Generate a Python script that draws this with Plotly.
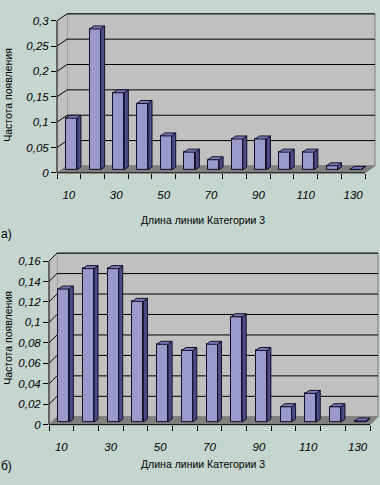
import plotly.graph_objects as go

# ---------------- data ----------------
categories = [10, 20, 30, 40, 50, 60, 70, 80, 90, 100, 110, 120, 130]
x_tick_labels = ["10", "30", "50", "70", "90", "110", "130"]
freq_a = [0.102, 0.278, 0.152, 0.131, 0.067, 0.035, 0.020, 0.061, 0.061, 0.035, 0.035, 0.008, 0.001]
freq_b = [0.130, 0.150, 0.150, 0.118, 0.076, 0.070, 0.076, 0.103, 0.070, 0.015, 0.028, 0.015, 0.001]
yticks_a = [0, 0.05, 0.1, 0.15, 0.2, 0.25, 0.3]
yticks_b = [0, 0.02, 0.04, 0.06, 0.08, 0.1, 0.12, 0.14, 0.16]
y_title = "Частота появления"
x_title = "Длина линии Категории 3"
panel_labels = ["а)", "б)"]

# ---------------- style ----------------
W, H = 380, 485
BG = "#c5d6cf"
WALL = "#c0c0c0"
FLOOR = "#808080"
BAR_FRONT = "#9999cc"
BAR_SIDE = "#4b4b85"
BAR_TOP = "#7a7ab8"
EDGE = "#10102a"
TICK_FONT = dict(family="Liberation Sans, Arial, sans-serif", size=11.5, color="black", style="italic")
TITLE_FONT = dict(family="Liberation Sans Narrow, Arial Narrow, Liberation Sans, sans-serif", size=10.5, color="black")


def px(x):
    return x / W


def py(y):
    return 1 - y / H


panels = [
    dict(vals=freq_a, yt=yticks_a, ymax=0.3, x0=57, x1=365, y0=175, ytop=21,
         wdx=10, wdy=7, bdx=2.6, bdy=3.0, bw=11, sdx=4, sdy=3, lablen=11,
         ytitle_y=96, xtitle=(203, 223), lab=(6, 237)),
    dict(vals=freq_b, yt=yticks_b, ymax=0.16, x0=49, x1=370, y0=430, ytop=264.3,
         wdx=8, wdy=8, bdx=2.5, bdy=2.7, bw=11, sdx=4, sdy=3, lablen=12,
         ytitle_y=342, xtitle=(203, 470), lab=(7, 472)),
]

fig = go.Figure()
shapes = []
annotations = []
n = len(categories)
idx = list(range(n))


def path(pts):
    return "M " + " L ".join(f"{a},{b}" for a, b in pts) + " Z"


for k, p in enumerate(panels):
    sfx = "" if k == 0 else str(k + 1)
    xref, yref = "x" + sfx, "y" + sfx
    pxc = (p["x1"] - p["x0"]) / n
    pxu = (p["y0"] - p["ytop"]) / p["ymax"]
    wdx, wdy = p["wdx"] / pxc, p["wdy"] / pxu
    bdx, bdy = p["bdx"] / pxc, p["bdy"] / pxu
    bw = p["bw"] / pxc
    sdx, sdy = p["sdx"] / pxc, p["sdy"] / pxu
    xr = [-0.5, n - 0.5 + (p["wdx"] + 2) / pxc]
    yr = [0, p["ymax"] + (p["wdy"] + 2) / pxu]
    ymax = p["ymax"]
    L, R = -0.5, n - 0.5

    # back wall
    shapes.append(dict(type="path", xref=xref, yref=yref, layer="below",
                       path=path([(L + wdx, wdy), (R + wdx, wdy), (R + wdx, ymax + wdy), (L + wdx, ymax + wdy)]),
                       fillcolor=WALL, line=dict(color="#808080", width=1)))
    # side wall
    shapes.append(dict(type="path", xref=xref, yref=yref, layer="below",
                       path=path([(L, 0), (L + wdx, wdy), (L + wdx, ymax + wdy), (L, ymax)]),
                       fillcolor=WALL, line=dict(color="#808080", width=0)))
    # floor
    shapes.append(dict(type="path", xref=xref, yref=yref, layer="below",
                       path=path([(L, 0), (R, 0), (R + wdx, wdy), (L + wdx, wdy)]),
                       fillcolor=FLOOR, line=dict(color="#808080", width=1)))
    # gridlines
    for v in p["yt"]:
        if v > 0:
            shapes.append(dict(type="path", xref=xref, yref=yref, layer="below",
                               path=f"M {L},{v} L {L + wdx},{v + wdy} L {R + wdx},{v + wdy}",
                               line=dict(color="black", width=1)))
    # bars: front faces
    fig.add_trace(go.Bar(x=[i + bdx for i in idx], y=p["vals"], base=[bdy] * n, width=bw,
                         marker=dict(color=BAR_FRONT, line=dict(color=EDGE, width=1)),
                         xaxis=xref, yaxis=yref, showlegend=False, hoverinfo="skip"))
    # bars: side and top faces
    for i, v in zip(idx, p["vals"]):
        xl = i + bdx - bw / 2
        xrr = i + bdx + bw / 2
        top = bdy + v
        shapes.append(dict(type="path", xref=xref, yref=yref, layer="above",
                           path=path([(xrr, bdy), (xrr + sdx, bdy + sdy), (xrr + sdx, top + sdy), (xrr, top)]),
                           fillcolor=BAR_SIDE, line=dict(color=EDGE, width=1)))
        shapes.append(dict(type="path", xref=xref, yref=yref, layer="above",
                           path=path([(xl, top), (xrr, top), (xrr + sdx, top + sdy), (xl + sdx, top + sdy)]),
                           fillcolor=BAR_TOP, line=dict(color=EDGE, width=1)))
    # front axis lines (paper coords derived from the panel frame)
    shapes.append(dict(type="line", xref="paper", yref="paper", layer="above",
                       x0=px(p["x0"]), x1=px(p["x0"]), y0=py(p["y0"]), y1=py(p["ytop"]),
                       line=dict(color="black", width=1)))
    shapes.append(dict(type="line", xref="paper", yref="paper", layer="above",
                       x0=px(p["x0"]), x1=px(p["x1"]), y0=py(p["y0"]), y1=py(p["y0"]),
                       line=dict(color="black", width=1)))

    fig.update_layout(**{
        "xaxis" + sfx: dict(
            domain=[px(p["x0"]), px(p["x1"] + p["wdx"] + 2)], range=xr, anchor=yref,
            tickmode="array", tickvals=idx[::2], ticktext=x_tick_labels,
            ticks="outside", ticklen=p["lablen"], tickcolor="rgba(0,0,0,0)",
            showgrid=False, zeroline=False, showline=False,
            tickfont=TICK_FONT,
            minor=dict(tickmode="array", tickvals=[i - 0.5 for i in range(n + 1)],
                       ticks="outside", ticklen=5, tickcolor="black", tickwidth=1, showgrid=False),
            fixedrange=True),
        "yaxis" + sfx: dict(
            domain=[py(p["y0"]), py(p["ytop"] - p["wdy"] - 2)], range=yr, anchor=xref,
            tickmode="array", tickvals=p["yt"], ticks="outside", ticklen=5,
            tickcolor="black", tickwidth=1, showgrid=False, zeroline=False, showline=False,
            tickfont=TICK_FONT, fixedrange=True),
    })

    annotations.append(dict(text=y_title, xref="paper", yref="paper", x=px(8), y=py(p["ytitle_y"]),
                            textangle=-90, showarrow=False, xanchor="center", yanchor="middle",
                            font=TITLE_FONT))
    annotations.append(dict(text=x_title, xref="paper", yref="paper", x=px(p["xtitle"][0]), y=py(p["xtitle"][1]),
                            showarrow=False, xanchor="center", yanchor="middle",
                            font=TITLE_FONT))
    annotations.append(dict(text=panel_labels[k], xref="paper", yref="paper", x=px(p["lab"][0]), y=py(p["lab"][1]),
                            showarrow=False, xanchor="center", yanchor="middle",
                            font=dict(family="Liberation Sans, Arial, sans-serif", size=12, color="black")))

fig.update_layout(
    width=W, height=H, margin=dict(l=0, r=0, t=0, b=0),
    paper_bgcolor=BG, plot_bgcolor="rgba(0,0,0,0)",
    separators=", ", bargap=0, showlegend=False,
    shapes=shapes, annotations=annotations,
)

fig.write_html("out.html", config=dict(displayModeBar=False),
               post_script="document.body.style.margin='0px';document.body.style.overflow='hidden';")
